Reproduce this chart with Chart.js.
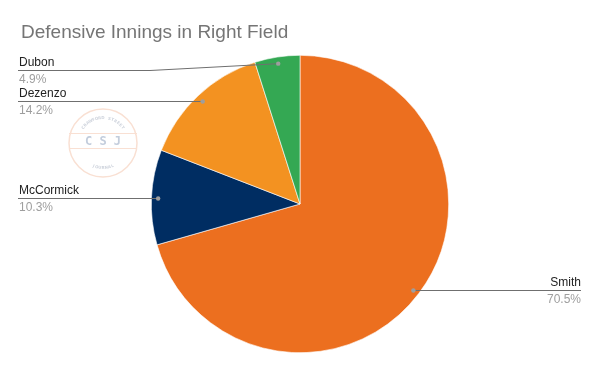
<!DOCTYPE html>
<html>
<head>
<meta charset="utf-8">
<script src="https://cdn.jsdelivr.net/npm/chart.js@4.4.1/dist/chart.umd.min.js"></script>
<style>
  html, body { margin: 0; padding: 0; background: #fff; }
  #wrap { width: 600px; height: 371px; position: relative; }
</style>
</head>
<body>
<div id="wrap"><canvas id="pie"></canvas></div>
<script>
// data (share of innings, %)
const players = ["Smith", "McCormick", "Dezenzo", "Dubon"];
const innings = [70.5, 10.3, 14.2, 4.9];
const sliceColors = ["#EC6F1F", "#002D62", "#F39221", "#34A853"];

const TITLE = "Defensive Innings in Right Field";

// faint logo in the upper left
const watermark = {
  id: "watermark",
  beforeDraw(chart) {
    const ctx = chart.ctx;
    const cx = 103, cy = 143, r = 34;
    ctx.save();
    ctx.strokeStyle = "#f9e0d3";
    ctx.lineWidth = 1.5;
    ctx.beginPath();
    ctx.arc(cx, cy, r, 0, Math.PI * 2);
    ctx.stroke();
    ctx.lineWidth = 1;
    ctx.beginPath();
    ctx.moveTo(cx - r, 133.5); ctx.lineTo(cx + r, 133.5);
    ctx.moveTo(cx - r, 148.5); ctx.lineTo(cx + r, 148.5);
    ctx.stroke();
    ctx.fillStyle = "#c3cddc";
    ctx.font = "bold 12px 'DejaVu Sans Mono'";
    ctx.textAlign = "center";
    ctx.textBaseline = "middle";
    ctx.fillText("C S J", cx, 141.5);
    // tiny arc text
    ctx.fillStyle = "#cfd4dd";
    ctx.font = "bold 4px 'DejaVu Sans'";
    const arcText = (txt, mid, rad, top) => {
      const step = 0.13;
      const start = mid - (txt.length - 1) * step / 2;
      for (let i = 0; i < txt.length; i++) {
        const a = top ? start + i * step : start + (txt.length - 1 - i) * step;
        ctx.save();
        ctx.translate(cx + rad * Math.cos(a), cy + rad * Math.sin(a));
        ctx.rotate(top ? a + Math.PI / 2 : a - Math.PI / 2);
        ctx.fillText(txt[i], 0, 0);
        ctx.restore();
      }
    };
    arcText("CRAWFORD STREET", -Math.PI / 2, 25, true);
    arcText("JOURNAL", Math.PI / 2, 25, false);
    ctx.restore();
  }
};

// title plus leader-line labels
const labelsPlugin = {
  id: "leaderLabels",
  afterDraw(chart) {
    const ctx = chart.ctx;
    const meta = chart.getDatasetMeta(0);
    ctx.save();
    ctx.fillStyle = "#757575";
    ctx.font = "19px 'Liberation Sans', Arial";
    ctx.textAlign = "left";
    ctx.textBaseline = "alphabetic";
    ctx.fillText(TITLE, 21, 37.5);

    meta.data.forEach((arc, i) => {
      const p = arc.getProps(["x", "y", "startAngle", "endAngle", "outerRadius"], true);
      const mid = (p.startAngle + p.endAngle) / 2;
      const dx = p.x + Math.cos(mid) * p.outerRadius * 0.955;
      let dy = p.y + Math.sin(mid) * p.outerRadius * 0.955;
      const right = Math.cos(mid) >= 0;
      const lineY = Math.round(Math.max(dy, 70)) + 0.5;
      const endX = right ? 581 : 18;
      const bent = Math.abs(lineY - dy) > 2;
      if (!bent) dy = lineY;

      ctx.strokeStyle = "#6f6f6f";
      ctx.lineWidth = 1;
      ctx.beginPath();
      ctx.moveTo(endX, lineY);
      if (bent) ctx.lineTo(right ? 450 : 150, lineY);
      ctx.lineTo(dx, dy);
      ctx.stroke();

      ctx.fillStyle = "#9e9e9e";
      ctx.beginPath();
      ctx.arc(dx, dy, 2.2, 0, Math.PI * 2);
      ctx.fill();

      const pct = innings[i].toFixed(1) + "%";
      ctx.font = "12px 'Liberation Sans', Arial";
      ctx.textAlign = right ? "right" : "left";
      const tx = right ? 581 : 19;
      ctx.fillStyle = "#222222";
      ctx.fillText(players[i], tx, lineY - 4.5);
      ctx.fillStyle = "#9e9e9e";
      ctx.fillText(pct, tx, lineY + 12.5);
    });
    ctx.restore();
  }
};

new Chart(document.getElementById("pie"), {
  type: "pie",
  data: {
    labels: players,
    datasets: [{
      data: innings,
      backgroundColor: sliceColors,
      borderColor: "#ffffff",
      borderWidth: 0.6
    }]
  },
  options: {
    responsive: true,
    maintainAspectRatio: false,
    animation: false,
    layout: { padding: { top: 55, bottom: 18, left: 0, right: 0 } },
    plugins: {
      legend: { display: false },
      tooltip: { enabled: false },
      title: { display: false }
    }
  },
  plugins: [watermark, labelsPlugin]
});
</script>
</body>
</html>
